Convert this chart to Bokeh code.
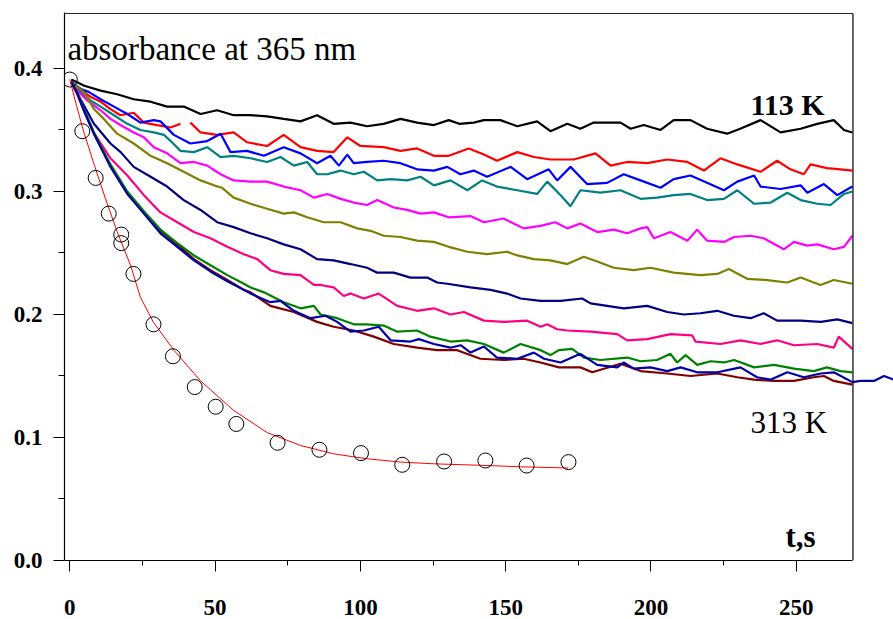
import numpy as np
from bokeh.plotting import figure
from bokeh.models import Range1d, FixedTicker, Label, NumeralTickFormatter
from bokeh.embed import file_html
from bokeh.resources import INLINE

# ---------------- data ----------------
# open circles (experiment at 313 K, fitted)
pts_t = [0, 4.3, 8.9, 13.4, 17.7, 17.7, 21.9, 28.8, 35.5, 43.0, 50.2, 57.3, 71.5, 85.9, 100.2, 114.4, 128.8, 143.0, 157.2, 171.6]
pts_a = [0.391, 0.349, 0.311, 0.282, 0.265, 0.258, 0.233, 0.192, 0.166, 0.141, 0.125, 0.111, 0.0957, 0.090, 0.0873, 0.0778, 0.0805, 0.0813, 0.0772, 0.080]

# red fitted curve
fit_t = [0, 2.3, 4.6, 8.5, 12.3, 16.5, 20.9, 24.3, 28.7, 35.8, 45, 56.4, 67.9, 79.4, 90.8, 102.3, 113.8, 125.3, 140, 155, 171.5]
fit_a = [0.391, 0.370, 0.350, 0.321, 0.294, 0.266, 0.240, 0.214, 0.194, 0.171, 0.146, 0.122, 0.104, 0.0935, 0.0867, 0.0827, 0.080, 0.0786, 0.0775, 0.0762, 0.0752]

black_t = [0.5, 5, 10.6, 16.3, 22, 27.8, 33.5, 39.2, 45, 50.7, 56.4, 62.2, 67.9, 73.6, 79.4, 85.1, 90.8, 96.6, 102.3, 108,
           113.8, 119.5, 125.3, 130.4, 134, 139, 142.5, 148.2, 154, 160.8, 165.4, 171.2, 175.7, 180.3, 189.5, 193, 197.5, 203.3, 207.8, 213.6,
           219.3, 226.2, 230.7, 237.7, 244.6, 251.5, 257.2, 262.9, 266.4, 269.3]
black_a = [0.391, 0.386, 0.382, 0.379, 0.375, 0.373, 0.369, 0.369, 0.363, 0.366, 0.362, 0.362, 0.361, 0.359, 0.357, 0.362, 0.355, 0.356, 0.353, 0.355,
           0.359, 0.356, 0.354, 0.358, 0.355, 0.356, 0.358, 0.358, 0.353, 0.357, 0.349, 0.355, 0.351, 0.356, 0.356, 0.351, 0.354, 0.350, 0.358, 0.358,
           0.351, 0.347, 0.351, 0.358, 0.348, 0.351, 0.355, 0.358, 0.350, 0.348]

red_t = [0.5, 4, 7.1, 10.6, 14, 17.4, 22, 25.5, 30, 34.7, 38.1, 39.5,
         41.5, 45, 50.7, 56.4, 61, 67.9, 73.6, 79.4, 85.1, 90.8,
         95.5, 100, 108, 113.8, 119.5, 125.3, 130.4, 137.3, 142.5, 147,
         154, 159.7, 165.4, 173.4, 180.9, 186.1, 191.8, 198.7, 205.6, 212.5,
         218.2, 223.9, 229.7, 237.7, 243.4, 248, 252.6, 254.9, 260.6, 265.2, 269.3]
red_a = [0.389, 0.382, 0.377, 0.373, 0.367, 0.362, 0.364, 0.356, 0.354, 0.352, 0.355, float("nan"),
         0.356, 0.348, 0.346, 0.348, 0.340, 0.337, 0.346, 0.336, 0.333, 0.332,
         0.344, 0.337, 0.336, 0.333, 0.335, 0.329, 0.329, 0.335, 0.330, 0.325,
         0.332, 0.328, 0.326, 0.326, 0.331, 0.321, 0.324, 0.323, 0.326, 0.324,
         0.317, 0.327, 0.322, 0.316, 0.325, 0.318, 0.314, 0.322, 0.319, 0.318, 0.317]

blue_t = [0.5, 4, 6.5, 10.6, 15.2, 19.8, 24.3, 28.9, 31.2, 35.8, 41.5, 47.3, 51.9, 55.3, 61, 66.8, 73.6, 79.4, 85.1, 89.7,
          92.6, 95.5, 97.7, 102.3, 108, 113.8, 119.5, 125.3, 129.9, 134.4, 139, 143.6, 151.7, 157.4, 164.8, 167.7, 172.3, 178, 184.9, 190.6,
          196.4, 203.3, 207.8, 213.6, 219.3, 225.1, 229.7, 235.5, 237.7, 244.6, 251.5, 253.8, 259.5, 264.1, 269.3]
blue_a = [0.389, 0.383, 0.381, 0.375, 0.369, 0.363, 0.356, 0.358, 0.357, 0.346, 0.339, 0.341, 0.347, 0.332, 0.333, 0.329, 0.336, 0.331, 0.323, 0.329,
          0.321, 0.330, 0.323, 0.324, 0.325, 0.323, 0.318, 0.317, 0.320, 0.314, 0.317, 0.312, 0.320, 0.310, 0.318, 0.309, 0.320, 0.306, 0.307, 0.314,
          0.309, 0.303, 0.310, 0.313, 0.307, 0.301, 0.308, 0.313, 0.304, 0.302, 0.305, 0.299, 0.306, 0.297, 0.304]

teal_t = [0.5, 4, 7.1, 10.6, 15.2, 19.8, 24.3, 28.9, 32.4, 34.7, 38.1, 42.7, 47.3, 51.9, 56.4, 62.2, 67.9, 72.5, 77.1, 81.7,
          85.1, 88.6, 93.2, 97.7, 101.2, 105.8, 110.4, 116.1, 120.7, 125.3, 131, 136.8, 141.9, 147, 154, 160.8, 164.3, 168.9, 172.3, 175.7,
          182.6, 189.5, 196.4, 202.1, 207.8, 213.6, 219.3, 225.1, 229.7, 235.5, 241.2, 246.9, 251.5, 257.2, 261.8, 266.4, 269.3]
teal_a = [0.389, 0.380, 0.374, 0.369, 0.362, 0.355, 0.350, 0.348, 0.346, 0.341, 0.333, 0.332, 0.336, 0.328, 0.329, 0.327, 0.324, 0.328, 0.321, 0.324,
          0.314, 0.314, 0.317, 0.314, 0.316, 0.309, 0.310, 0.309, 0.312, 0.305, 0.309, 0.301, 0.309, 0.304, 0.301, 0.298, 0.308, 0.297, 0.288, 0.301,
          0.299, 0.301, 0.294, 0.295, 0.297, 0.298, 0.293, 0.294, 0.301, 0.290, 0.291, 0.299, 0.293, 0.290, 0.289, 0.298, 0.300]

magenta_t = [0.5, 3, 6, 10.6, 14, 17.4, 22, 25.5, 28.9, 33.5, 38.1, 42.7, 47.3, 51.9, 56.4, 62.2, 67.9, 73.6, 79.4, 84,
             88.6, 93.2, 97.7, 102.3, 105.8, 111.5, 116.1, 120.7, 125.3, 130.4, 137.9, 142.5, 149.3, 156.2, 162, 167.1, 171.2, 175.7, 181.5, 187.2,
             191.8, 196.4, 198.7, 201, 206.7, 212.5, 215.9, 219.3, 225.1, 228.6, 234.3, 238.8, 245.7, 249.2, 253.8, 257.2, 262.9, 266.4, 269.3]
magenta_a = [0.389, 0.381, 0.374, 0.366, 0.359, 0.354, 0.348, 0.344, 0.336, 0.331, 0.323, 0.324, 0.321, 0.314, 0.309, 0.308, 0.308, 0.304, 0.301, 0.295,
             0.298, 0.294, 0.291, 0.289, 0.293, 0.287, 0.285, 0.282, 0.283, 0.279, 0.280, 0.275, 0.278, 0.270, 0.272, 0.275, 0.270, 0.274, 0.267, 0.269,
             0.266, 0.270, 0.271, 0.262, 0.267, 0.260, 0.269, 0.260, 0.259, 0.263, 0.264, 0.262, 0.253, 0.259, 0.256, 0.257, 0.253, 0.255, 0.264]

olive_t = [0.5, 4.8, 8.3, 11.7, 16.3, 22, 27.8, 33.5, 39.2, 45, 49.6, 52.4, 56.4, 62.2, 67.9, 73.6, 77.1, 81.7, 87.4, 93.2,
           98.9, 103.5, 108, 113.8, 119.5, 125.3, 130.4, 136.8, 143.6, 150.5, 154, 159.7, 165.4, 171.2, 176.9, 181.5, 187.2, 194.1, 199.8, 207.8,
           217, 222.8, 226.8, 233.1, 240, 246.9, 251.5, 258.3, 262.9, 269.3]
olive_a = [0.389, 0.381, 0.367, 0.359, 0.347, 0.339, 0.329, 0.323, 0.316, 0.309, 0.305, 0.303, 0.295, 0.290, 0.286, 0.282, 0.283, 0.279, 0.275, 0.275,
           0.270, 0.268, 0.264, 0.263, 0.260, 0.259, 0.255, 0.251, 0.249, 0.251, 0.248, 0.245, 0.244, 0.241, 0.247, 0.243, 0.238, 0.236, 0.238, 0.234,
           0.232, 0.233, 0.237, 0.229, 0.228, 0.226, 0.230, 0.224, 0.228, 0.225]

navy_t = [0.5, 3.7, 8.3, 14, 17.5, 22, 27.8, 33.5, 39.2, 45, 50.7, 56.4, 62.2, 67.9, 73.6, 79.4, 85.1, 90.8, 96.6, 102.3,
          105.8, 111.5, 117.2, 123, 126.4, 129.9, 137.9, 144.8, 150.5, 155.1, 162, 168.9, 176.3, 179.2, 184.9, 190.6, 198.7, 205.6, 211.3, 217,
          222.8, 228.5, 234.3, 238.8, 243.4, 251.5, 258.4, 264.1, 269.3]
navy_a = [0.389, 0.375, 0.355, 0.339, 0.332, 0.320, 0.312, 0.304, 0.293, 0.285, 0.275, 0.271, 0.266, 0.262, 0.257, 0.253, 0.245, 0.244, 0.241, 0.238,
          0.234, 0.234, 0.230, 0.230, 0.226, 0.225, 0.222, 0.220, 0.217, 0.213, 0.211, 0.211, 0.213, 0.209, 0.207, 0.205, 0.207, 0.202, 0.200, 0.201,
          0.203, 0.199, 0.197, 0.201, 0.195, 0.195, 0.194, 0.196, 0.193]

pink_t = [0.5, 3, 8.2, 14, 19.8, 25.5, 31.2, 37, 42.7, 48.4, 54.2, 59.9, 64.5, 69, 73.6, 79.4, 84, 86.3, 90.8, 94.3,
          96.6, 101.2, 106.3, 112.7, 119.5, 125.3, 131, 135.6, 142.5, 149.3, 157.4, 162, 164.3, 167.7, 171.2, 179.2, 188.4, 191.8, 198.7, 206.7,
          214.2, 215.3, 223.9, 230.8, 237.7, 243.4, 249.2, 257.2, 262.9, 264.6, 269.3]
pink_a = [0.389, 0.377, 0.348, 0.327, 0.313, 0.297, 0.283, 0.275, 0.267, 0.262, 0.255, 0.249, 0.245, 0.236, 0.233, 0.232, 0.224, 0.224, 0.222, 0.215,
          0.217, 0.213, 0.217, 0.207, 0.203, 0.205, 0.200, 0.202, 0.195, 0.194, 0.195, 0.190, 0.192, 0.188, 0.187, 0.186, 0.184, 0.179, 0.180, 0.184,
          0.183, 0.178, 0.176, 0.179, 0.176, 0.179, 0.175, 0.176, 0.173, 0.182, 0.172]

early_t = [0.5, 2.5, 5, 8.3, 14, 19.8, 25.5, 31.2, 37, 42.7, 48.4, 54.2, 59.9]

green_t = early_t + [62.2, 66.8, 73.6, 79.4, 84, 86.3, 92, 97.7, 102.3, 108,
                     112.7, 119.5, 124.1, 131, 136.8, 142.5, 149.3, 155.1, 162, 165.4,
                     168.3, 172.9, 176.9, 182.6, 191.8, 196.4, 202.1, 206.7, 209, 211.9,
                     215.9, 220.5, 225.1, 228.6, 235.5, 242.4, 249.2, 256, 260.6, 265.2, 269.3]
green_a = [0.389, 0.381, 0.366, 0.348, 0.322, 0.300, 0.284, 0.269, 0.258, 0.248, 0.240, 0.232, 0.225] + \
          [0.222, 0.218, 0.210, 0.205, 0.207, 0.200, 0.197, 0.192, 0.192, 0.191,
           0.186, 0.187, 0.182, 0.178, 0.179, 0.176, 0.169, 0.176, 0.171, 0.167,
           0.171, 0.172, 0.165, 0.163, 0.165, 0.162, 0.163, 0.168, 0.161, 0.167,
           0.159, 0.162, 0.161, 0.163, 0.157, 0.159, 0.156, 0.154, 0.157, 0.154, 0.153]

blue2_t = early_t + [62.2, 69, 72.5, 77.1, 82.8, 88, 92, 96.6, 101.2, 106.3,
                     110.4, 117.2, 120.1, 125.3, 131, 134.5, 137.9, 142.5, 147, 154,
                     159.7, 163.2, 168.9, 175.7, 181.5, 188.4, 190.6, 194.1, 199.8, 205.6,
                     210.2, 215.9, 222.8, 230.8, 236.5, 241.1, 246.9, 252.6, 258.4, 262.9,
                     269.3, 272.1, 276.7, 280.2, 283.5]
blue2_a = [0.389, 0.380, 0.365, 0.347, 0.320, 0.298, 0.282, 0.266, 0.255, 0.244, 0.235, 0.227, 0.220] + \
          [0.217, 0.210, 0.211, 0.203, 0.197, 0.199, 0.194, 0.186, 0.187, 0.190,
           0.179, 0.178, 0.180, 0.176, 0.173, 0.175, 0.169, 0.174, 0.165, 0.164,
           0.169, 0.164, 0.161, 0.168, 0.159, 0.157, 0.161, 0.156, 0.157, 0.154,
           0.157, 0.153, 0.153, 0.157, 0.149, 0.147, 0.153, 0.149, 0.152, 0.153,
           0.145, 0.146, 0.146, 0.150, 0.147]

maroon_t = early_t + [62.2, 69, 77.1, 85.1, 90.8, 97.7, 104.6, 111.5, 119.5, 126.4,
                      133.3, 141.3, 149.3, 156.2, 162, 168.3, 175.7, 179.8, 189.5, 196.4,
                      205.6, 213.6, 222.8, 229.7, 235.5, 242.4, 249.2, 256, 259.5, 262.9, 269.3]
maroon_a = [0.389, 0.380, 0.365, 0.347, 0.321, 0.299, 0.283, 0.268, 0.257, 0.245, 0.236, 0.228, 0.220] + \
           [0.218, 0.207, 0.202, 0.194, 0.190, 0.187, 0.182, 0.176, 0.173, 0.171,
            0.171, 0.164, 0.163, 0.164, 0.161, 0.157, 0.157, 0.153, 0.160, 0.154,
            0.152, 0.150, 0.152, 0.149, 0.147, 0.146, 0.146, 0.149, 0.150, 0.146, 0.143]

curves = [
    (black_t, black_a, "#000000"),
    (red_t, red_a, "#ff0000"),
    (teal_t, teal_a, "#008080"),
    (blue_t, blue_a, "#0000ff"),
    (magenta_t, magenta_a, "#ff00ff"),
    (olive_t, olive_a, "#808000"),
    (navy_t, navy_a, "#000080"),
    (pink_t, pink_a, "#ff0080"),
    (maroon_t, maroon_a, "#800000"),
    (green_t, green_a, "#008000"),
    (blue2_t, blue2_a, "#0000a8"),
]

y_ticks = [0.0, 0.1, 0.2, 0.3, 0.4]
y_minor = [0.05, 0.15, 0.25, 0.35]
x_ticks = [0, 50, 100, 150, 200, 250]
x_minor = [25, 75, 125, 175, 225]

# ---------------- figure ----------------
X0, X1 = -1.824, 283.45
XEND = 269.5
Y1 = 0.4455
YTOP = 0.4447

p = figure(width=893, height=619, output_backend="svg", toolbar_location=None,
           x_range=Range1d(X0, X1), y_range=Range1d(0, Y1),
           min_border_left=64, min_border_right=0, min_border_top=12, min_border_bottom=59)
p.outline_line_color = None
p.grid.visible = False
p.background_fill_color = "white"
p.border_fill_color = "white"

for t, a, c in curves:
    n = min(len(t), len(a))
    p.line(np.array(t[:n], dtype=float), np.array(a[:n], dtype=float), line_color=c, line_width=2.2)

p.line(fit_t, fit_a, line_color="#ff0000", line_width=1)
p.scatter(pts_t, pts_a, marker="circle", size=15, fill_color=None, line_color="black", line_width=1)

# frame (top and right edges)
p.line([X0, XEND], [YTOP, YTOP], line_color="#222222", line_width=1)
p.line([XEND, XEND], [0, YTOP], line_color="black", line_width=1.2)

font = "Liberation Serif"
xa = p.xaxis[0]
xa.ticker = FixedTicker(ticks=x_ticks, minor_ticks=x_minor)
xa.bounds = (X0, XEND)
ya = p.yaxis[0]
ya.ticker = FixedTicker(ticks=y_ticks, minor_ticks=y_minor)
ya.formatter = NumeralTickFormatter(format="0.0")
for ax in (xa, ya):
    ax.axis_line_color = "black"
    ax.axis_line_width = 1.2
    ax.major_tick_line_color = "black"
    ax.minor_tick_line_color = "black"
    ax.major_tick_in = 0
    ax.minor_tick_in = 0
    ax.major_tick_out = 11
    ax.major_label_text_font = font
    ax.major_label_text_font_style = "bold"
    ax.major_label_text_font_size = "23px"
    ax.major_label_text_color = "black"
xa.minor_tick_out = 5
ya.minor_tick_out = 6
xa.major_label_standoff = 28
ya.major_label_standoff = 11

dy = 0.0092
p.add_layout(Label(x=-0.8, y=0.4065 + dy, text="absorbance at 365 nm", text_font=font,
                   text_font_size="33px", text_baseline="alphabetic", text_color="black"))
p.add_layout(Label(x=234.2, y=0.3618 + dy, text="113 K", text_font=font, text_font_style="bold",
                   text_font_size="30px", text_baseline="alphabetic", text_color="black"))
p.add_layout(Label(x=234.2, y=0.1033 + dy, text="313 K", text_font=font,
                   text_font_size="31px", text_baseline="alphabetic", text_color="black"))
p.add_layout(Label(x=246.3, y=0.0106 + dy, text="t,s", text_font=font, text_font_style="bold",
                   text_font_size="31px", text_baseline="alphabetic", text_color="black"))

open("out.html", "w").write(file_html(p, INLINE))
